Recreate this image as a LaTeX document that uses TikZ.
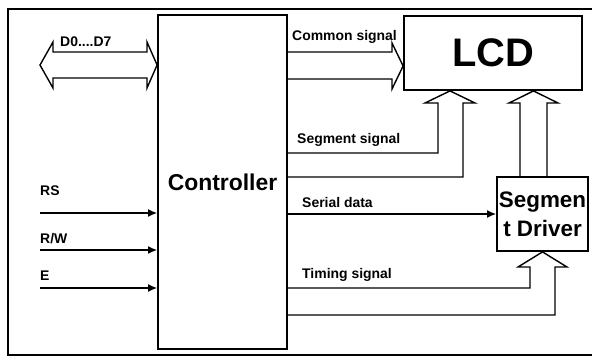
\documentclass[tikz,border=0pt]{standalone}
\usepackage{fontspec}
\setmainfont{Liberation Sans}
\usetikzlibrary{arrows.meta,calc}
\begin{document}
\begin{tikzpicture}[x=1bp,y=-1bp,
  box/.style={draw,line width=1.8bp,inner sep=0pt,font=\bfseries\fontsize{22.5}{29}\selectfont,align=center},
  lbl/.style={anchor=base west,inner sep=0pt,font=\bfseries\fontsize{14}{16}\selectfont},
  sig/.style={line width=1.4bp,-{Latex[length=9bp,width=8bp]}},
  hollow/.style={line width=1.4bp,line join=miter}]
\useasboundingbox (0,0) rectangle (592,359);
\draw[line width=2.2bp] (600,9) -- (8,9) -- (8,355) -- (600,355);
% boxes
\node[box,minimum width=129bp,minimum height=334bp,font=\bfseries\fontsize{23}{29}\selectfont] (ctrl) at (222.5,182) {Controller};
\node[box,minimum width=178bp,minimum height=74bp,font=\bfseries\fontsize{40}{40}\selectfont] (lcd) at (493,53) {LCD};
\node[box,minimum width=91bp,minimum height=74bp] (drv) at (542.5,214) {Segmen\\t Driver};
% data bus
\draw[hollow] (40,65) -- (53,42) -- (53,52) -- (147,52) -- (147,42) -- (ctrl.west |- 0,65) -- (147,88) -- (147,78) -- (53,78) -- (53,88) -- cycle;
\node[lbl] (dlbl) at (60,46) {D0....D7};
% common signal
\draw[hollow] (ctrl.east |- 0,52) -- (392,52) -- (392,43) -- (lcd.west |- 0,66) -- (392,89) -- (392,79) -- (ctrl.east |- 0,79);
\node[lbl] (clbl) at (292,40) {Common signal};
% segment signal
\draw[hollow] (ctrl.east |- 0,153) -- (438,153) -- (438,103) -- (425,103) -- (lcd.south -| 450,0) -- (475,103) -- (463,103) -- (463,177) -- (ctrl.east |- 0,177);
\node[lbl] (slbl) at (297,143) {Segment signal};
% driver to LCD
\draw[hollow] (drv.north -| 520,0) -- (520,103) -- (509,103) -- (lcd.south -| 533.5,0) -- (558,103) -- (547,103) -- (drv.north -| 547,0);
% serial data
\draw[sig] (ctrl.east |- drv.west) -- (drv.west);
\node[lbl] (sdlbl) at (302,207) {Serial data};
% timing signal
\draw[hollow] (ctrl.east |- 0,288) -- (530,288) -- (530,267) -- (518,267) -- (drv.south) -- (567,267) -- (555,267) -- (555,315) -- (ctrl.east |- 0,315);
\node[lbl] (tlbl) at (302,278) {Timing signal};
% inputs
\coordinate (rs) at (40,213);
\coordinate (rw) at (40,250);
\coordinate (en) at (40,288);
\draw[sig] (rs) -- (rs -| ctrl.west);
\draw[sig] (rw) -- (rw -| ctrl.west);
\draw[sig] (en) -- (en -| ctrl.west);
\node[lbl] (rslbl) at (40,195) {RS};
\node[lbl] (rwlbl) at (40,243) {R/W};
\node[lbl] (elbl) at (40,280) {E};
\end{tikzpicture}
\end{document}
